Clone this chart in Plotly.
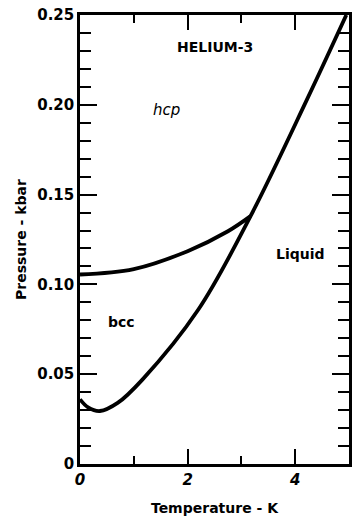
import plotly.graph_objects as go

# Melting curve (solid-liquid boundary)
melt_T = [0.0, 0.15, 0.37, 0.7, 1.16, 2.2, 3.17, 4.22, 4.95]
melt_P = [0.036, 0.0315, 0.0295, 0.034, 0.047, 0.086, 0.138, 0.203, 0.25]

# bcc-hcp phase boundary
bh_T = [0.0, 1.0, 2.0, 2.75, 3.17]
bh_P = [0.1055, 0.1085, 0.1185, 0.1296, 0.138]

x_tickvals = [0, 2, 4]
x_ticktext = ["0", "2", "4"]
y_tickvals = [0, 0.05, 0.10, 0.15, 0.20, 0.25]
y_ticktext = ["0", "0.05", "0.10", "0.15", "0.20", "0.25"]

labels = [
    ("HELIUM-3", 2.5, 0.232, "normal", "bold", 14),
    ("hcp", 1.6, 0.197, "italic", "normal", 15),
    ("bcc", 0.77, 0.079, "normal", "bold", 14),
    ("Liquid", 4.1, 0.117, "normal", "bold", 14),
]

FONT = "DejaVu Sans"

fig = go.Figure()
fig.add_trace(go.Scatter(x=melt_T, y=melt_P, mode="lines",
                         line=dict(color="black", width=3.8, shape="spline", smoothing=1.0),
                         showlegend=False, hoverinfo="skip"))
fig.add_trace(go.Scatter(x=bh_T, y=bh_P, mode="lines",
                         line=dict(color="black", width=3.8, shape="spline", smoothing=1.0),
                         showlegend=False, hoverinfo="skip"))

for text, x, y, style, weight, size in labels:
    fig.add_annotation(x=x, y=y, text=text, showarrow=False,
                       font=dict(family=FONT, size=size, color="black", style=style, weight=weight))

fig.update_layout(
    width=354, height=517,
    margin=dict(l=80, r=2, t=15, b=52),
    paper_bgcolor="white", plot_bgcolor="white",
    font=dict(family=FONT, color="black"),
    xaxis=dict(range=[0, 5], showgrid=False, zeroline=False,
               showline=True, linecolor="black", linewidth=2.5, mirror="ticks",
               ticks="inside", ticklen=15, tickwidth=2, tickcolor="black",
               tickvals=x_tickvals, ticktext=x_ticktext,
               tickfont=dict(family=FONT, size=15, style="italic", weight="bold"),
               minor=dict(ticks="inside", ticklen=8, tickwidth=2, dtick=1, tickcolor="black", showgrid=False),
               title=dict(text="Temperature - K", font=dict(family=FONT, size=14, weight="bold"), standoff=16)),
    yaxis=dict(range=[0, 0.25], showgrid=False, zeroline=False,
               showline=True, linecolor="black", linewidth=2.5, mirror="ticks",
               ticks="inside", ticklen=17, tickwidth=2, tickcolor="black",
               tickvals=y_tickvals, ticktext=y_ticktext,
               tickfont=dict(family=FONT, size=15, weight="bold"),
               minor=dict(ticks="inside", ticklen=11, tickwidth=2, dtick=0.01, tick0=0, tickcolor="black", showgrid=False),
               title=dict(text="Pressure - kbar", font=dict(family=FONT, size=14, weight="bold"), standoff=8)),
)

fig.write_html("out.html", config={"displayModeBar": False},
               post_script="document.body.style.margin='0';document.body.style.overflow='hidden';")
